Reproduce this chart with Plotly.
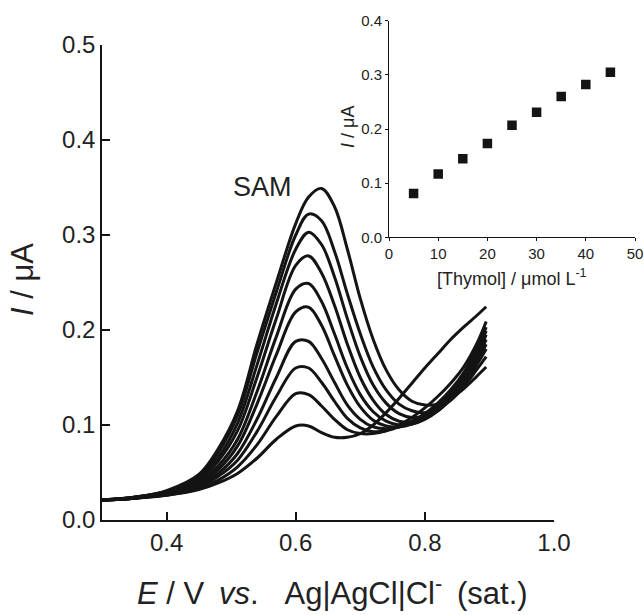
import plotly.graph_objects as go

# ---- main voltammograms ----
E_grid = [0.30, 0.35, 0.40, 0.45, 0.48, 0.51, 0.54, 0.57, 0.60, 0.62, 0.64, 0.66,
          0.68, 0.70, 0.72, 0.74, 0.76, 0.78, 0.80, 0.82, 0.84, 0.86, 0.88, 0.895]

curve_1 = [0.021, 0.023, 0.026, 0.032, 0.039, 0.049, 0.065, 0.085, 0.099, 0.099, 0.092, 0.087,
           0.087, 0.091, 0.100, 0.113, 0.128, 0.144, 0.160, 0.175, 0.190, 0.203, 0.215, 0.2245]
curve_2 = [0.021, 0.023, 0.026, 0.033, 0.042, 0.056, 0.079, 0.109, 0.133, 0.132, 0.120, 0.106,
           0.095, 0.091, 0.091, 0.094, 0.100, 0.108, 0.118, 0.130, 0.144, 0.161, 0.185, 0.209]
curve_3 = [0.021, 0.023, 0.027, 0.035, 0.046, 0.063, 0.093, 0.130, 0.160, 0.160, 0.145, 0.125,
           0.107, 0.097, 0.093, 0.094, 0.098, 0.104, 0.112, 0.123, 0.137, 0.155, 0.180, 0.203]
curve_4 = [0.021, 0.023, 0.027, 0.036, 0.049, 0.070, 0.106, 0.150, 0.188, 0.188, 0.170, 0.145,
           0.121, 0.106, 0.098, 0.096, 0.098, 0.103, 0.110, 0.120, 0.134, 0.153, 0.177, 0.199]
curve_5 = [0.021, 0.023, 0.028, 0.038, 0.053, 0.078, 0.122, 0.174, 0.219, 0.224, 0.205, 0.173,
           0.142, 0.119, 0.105, 0.099, 0.098, 0.101, 0.108, 0.118, 0.132, 0.150, 0.173, 0.195]
curve_6 = [0.021, 0.023, 0.028, 0.040, 0.057, 0.085, 0.135, 0.193, 0.243, 0.249, 0.230, 0.196,
           0.160, 0.132, 0.114, 0.104, 0.100, 0.101, 0.106, 0.115, 0.129, 0.147, 0.169, 0.190]
curve_7 = [0.021, 0.024, 0.029, 0.042, 0.062, 0.094, 0.150, 0.212, 0.268, 0.278, 0.260, 0.226,
           0.185, 0.150, 0.126, 0.111, 0.104, 0.103, 0.107, 0.115, 0.128, 0.145, 0.166, 0.185]
curve_8 = [0.021, 0.024, 0.030, 0.044, 0.066, 0.102, 0.163, 0.228, 0.285, 0.303, 0.290, 0.256,
           0.212, 0.172, 0.142, 0.123, 0.112, 0.108, 0.109, 0.115, 0.127, 0.143, 0.163, 0.180]
curve_9 = [0.021, 0.024, 0.030, 0.046, 0.071, 0.110, 0.176, 0.240, 0.300, 0.322, 0.315, 0.283,
           0.238, 0.196, 0.161, 0.137, 0.122, 0.115, 0.113, 0.117, 0.126, 0.140, 0.158, 0.172]
curve_10 = [0.021, 0.024, 0.031, 0.048, 0.075, 0.115, 0.185, 0.250, 0.312, 0.340, 0.349, 0.330,
            0.285, 0.233, 0.190, 0.158, 0.137, 0.125, 0.121, 0.122, 0.128, 0.138, 0.151, 0.161]

curves = [curve_1, curve_2, curve_3, curve_4, curve_5,
          curve_6, curve_7, curve_8, curve_9, curve_10]

# ---- inset: calibration ----
conc = [5, 10, 15, 20, 25, 30, 35, 40, 45]
peak_current = [0.081, 0.117, 0.145, 0.173, 0.207, 0.231, 0.260, 0.282, 0.305]

main_x_ticks = [0.4, 0.6, 0.8, 1.0]
main_y_ticks = [0.0, 0.1, 0.2, 0.3, 0.4, 0.5]
inset_x_ticks = [0, 10, 20, 30, 40, 50]
inset_y_ticks = [0.0, 0.1, 0.2, 0.3, 0.4]

FONT = "Liberation Sans, Arial, sans-serif"
INK = "#141414"
TXT = "#222222"

fig = go.Figure()
for c in curves:
    fig.add_trace(go.Scatter(x=E_grid, y=c, mode="lines",
                             line=dict(color=INK, width=3, shape="spline", smoothing=1.0),
                             xaxis="x", yaxis="y", showlegend=False, hoverinfo="skip"))

fig.add_trace(go.Scatter(x=conc, y=peak_current, mode="markers",
                         marker=dict(symbol="square", size=9.5, color=INK),
                         xaxis="x2", yaxis="y2", showlegend=False))

W, H = 644, 615
def px_x(p):
    return p / W
def px_y(p):
    return 1 - p / H

axis_common = dict(showgrid=False, zeroline=False, showline=True, linecolor=INK,
                   mirror=False, tickcolor=INK, color=TXT, automargin=False)

fig.update_layout(
    template="none",
    width=W, height=H,
    margin=dict(l=0, r=0, t=0, b=0, pad=0, autoexpand=False),
    paper_bgcolor="white", plot_bgcolor="rgba(0,0,0,0)",
    font=dict(family=FONT, color=TXT),
    showlegend=False,
    xaxis=dict(domain=[px_x(102), px_x(554)], range=[0.3, 1.0], tickvals=main_x_ticks,
               tickformat=".1f", ticks="inside", ticklen=8, tickwidth=1.5, linewidth=1.5,
               tickfont=dict(size=24), anchor="y", **axis_common),
    yaxis=dict(domain=[px_y(520), px_y(45)], range=[0, 0.5], tickvals=main_y_ticks,
               tickformat=".1f", ticks="inside", ticklen=8, tickwidth=1.5, linewidth=1.5,
               tickfont=dict(size=24), anchor="x", **axis_common),
    xaxis2=dict(domain=[px_x(389), px_x(635)], range=[0, 50], tickvals=inset_x_ticks,
                ticks="outside", ticklen=3, tickwidth=1, linewidth=1,
                tickfont=dict(size=15), anchor="y2", **axis_common),
    yaxis2=dict(domain=[px_y(237.3), px_y(20.7)], range=[0, 0.4], tickvals=inset_y_ticks,
                tickformat=".1f", ticks="outside", ticklen=3, tickwidth=1, linewidth=1,
                tickfont=dict(size=15), anchor="x2", **axis_common),
)

NB = "\u00a0"
TH = "\u2009"
annotations = [
    dict(text="<i>E</i>" + NB + "/" + NB + "V" + NB + TH + "<i>vs</i>." + NB * 3
         + "Ag|AgCl|Cl<sup>-</sup>" + NB + TH + "(sat.)",
         x=px_x(332), y=px_y(591), font=dict(size=31)),
    dict(text="<i>I</i>" + NB + "/" + NB + "μA", x=px_x(22), y=px_y(280), textangle=-90,
         font=dict(size=31)),
    dict(text="SAM", x=px_x(262), y=px_y(187), font=dict(size=27)),
    dict(text="[Thymol]" + NB + "/" + NB + "μmol" + NB + "L<sup>-1</sup>", x=px_x(512),
         y=px_y(277), font=dict(size=18)),
    dict(text="<i>I</i>" + NB + "/" + NB + "μA", x=px_x(348), y=px_y(127), textangle=-90,
         font=dict(size=18)),
]
for a in annotations:
    a.update(xref="paper", yref="paper", xanchor="center", yanchor="middle",
             showarrow=False)
    a["font"]["color"] = TXT
    a["font"]["family"] = FONT
fig.update_layout(annotations=annotations)

fig.write_html("out.html")
